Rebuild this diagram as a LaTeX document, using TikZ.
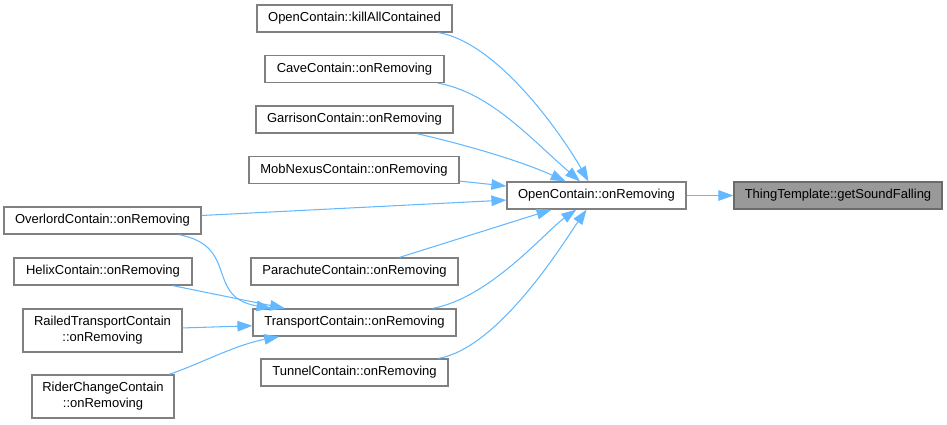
\documentclass[tikz,border=0pt]{standalone}
\usepackage{fontspec}
\setmainfont{Liberation Sans}
\usepackage{tikz}
\usetikzlibrary{arrows.meta}
\definecolor{edgeblue}{HTML}{63B8FF}
\definecolor{boxline}{HTML}{808080}
\definecolor{hlfill}{HTML}{999999}
\tikzstyle{func} = [rectangle, minimum height=0.54cm, text centered, draw=boxline, fill=white, line width=0.7pt]
\tikzstyle{target} = [func, draw=hlfill!70!black, fill=hlfill]
\tikzstyle{call} = [draw=edgeblue, line width=0.6pt, -{Triangle[length=0.3cm,width=0.21cm]}]

\begin{document}
\begin{tikzpicture}[
  x=0.02cm, y=-0.02cm,
  every node/.style={font=\fontsize{7.4}{9}\selectfont, inner sep=1pt}
]
\useasboundingbox (0,0) rectangle (947,424);

\node (kill) [func, minimum width=3.9cm] at (354.5,18.5) {OpenContain::killAllContained};
\node (cave) [func, minimum width=3.58cm] at (354.5,69) {CaveContain::onRemoving};
\node (garrison) [func, minimum width=3.94cm] at (354.5,119.5) {GarrisonContain::onRemoving};
\node (mobnexus) [func, minimum width=4.2cm] at (354,170) {MobNexusContain::onRemoving};
\node (overlord) [func, minimum width=3.94cm] at (102.5,220.5) {OverlordContain::onRemoving};
\node (parachute) [func, minimum width=4.14cm] at (354.5,271.5) {ParachuteContain::onRemoving};
\node (helix) [func, minimum width=3.56cm] at (103,271.5) {HelixContain::onRemoving};
\node (transport) [func, minimum width=4.06cm] at (354.5,322.5) {TransportContain::onRemoving};
\node (railed) [func, minimum width=3.18cm, minimum height=0.86cm, align=center] at (102.5,330.5)
  {RailedTransportContain\\::onRemoving};
\node (rider) [func, minimum width=2.84cm, minimum height=0.86cm, align=center] at (103,396.5)
  {RiderChangeContain\\::onRemoving};
\node (tunnel) [func, minimum width=3.74cm] at (354.5,372.5) {TunnelContain::onRemoving};

\node (oc) [func, minimum width=3.58cm] at (596.5,195.5) {OpenContain::onRemoving};
\node (tt) [target, minimum width=4.16cm] at (838,195.5) {ThingTemplate::getSoundFalling};

\draw [call] (oc) -- (tt);
\draw [call] (kill) .. controls (500,43) and (565,140) .. (oc);
\draw [call] (cave) .. controls (490,92) and (532,140) .. (oc);
\draw [call] (garrison) .. controls (480,148) and (530,165) .. (oc);
\draw [call] (mobnexus) -- (oc);
\draw [call] (overlord) -- (oc);
\draw [call] (parachute) -- (oc);
\draw [call] (transport) .. controls (490,298) and (546.5,230.5) .. (oc);
\draw [call] (tunnel) .. controls (500,348) and (566.5,238) .. (oc);
\draw [call] (overlord) .. controls (240,246) and (204.5,297) .. (transport);
\draw [call] (helix) -- (transport);
\draw [call] (railed) -- (transport);
\draw [call] (rider) .. controls (200,364) and (234.5,345) .. (transport);

\end{tikzpicture}
\end{document}
